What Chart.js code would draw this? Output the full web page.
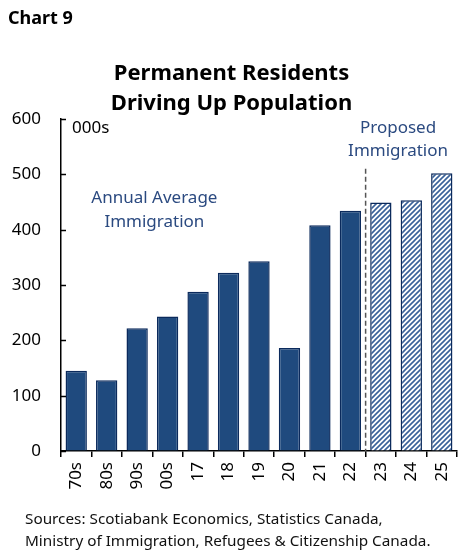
<!DOCTYPE html>
<html>
<head>
<meta charset="utf-8">
<script src="https://cdn.jsdelivr.net/npm/chart.js@4"></script>
<style>
  body { margin: 0; background: #fff; font-family: "Noto Sans", "Open Sans", sans-serif; }
  #wrap { position: relative; width: 473px; height: 550px; }
  #chart { position: absolute; left: 0; top: 0; }
  .txt { position: absolute; color: #000; white-space: nowrap; }
  #chartNo { left: 8px; top: 5px; font-weight: 700; font-size: 18px; }
  #title { left: 0; width: 463px; top: 56px; text-align: center; font-weight: 700; font-size: 22px; line-height: 30px; }
  #sources { left: 25px; top: 507px; font-size: 15.3px; line-height: 22px; color: #111; }
</style>
</head>
<body>
<div id="wrap">
  <canvas id="chart" width="473" height="550"></canvas>
  <div class="txt" id="chartNo">Chart 9</div>
  <div class="txt" id="title">Permanent Residents<br>Driving Up Population</div>
  <div class="txt" id="sources">Sources: Scotiabank Economics, Statistics Canada,<br>Ministry of Immigration, Refugees &amp; Citizenship Canada.</div>
</div>
<script>
// ---- data ----
const categories = ['70s', '80s', '90s', '00s', '17', '18', '19', '20', '21', '22', '23', '24', '25'];
const immigration = [145, 128, 222, 243, 288, 322, 343, 186, 408, 434, 449, 453, 502];
const proposedFrom = 10; // index of first proposed year ('23')
const yTicks = [0, 100, 200, 300, 400, 500, 600];

const navy = '#0b2a5c';
const barBlue = '#1f4a7e';
const noteBlue = '#2b4a80';

// hatch pattern for proposed bars
function makeHatch() {
  const c = document.createElement('canvas');
  c.width = 5; c.height = 5;
  const g = c.getContext('2d');
  g.fillStyle = '#fff';
  g.fillRect(0, 0, 5, 5);
  g.strokeStyle = '#3a629a';
  g.lineWidth = 1.6;
  g.beginPath();
  g.moveTo(-1, 6); g.lineTo(6, -1);
  g.moveTo(-3.5, 3.5); g.lineTo(3.5, -3.5);
  g.moveTo(1.5, 8.5); g.lineTo(8.5, 1.5);
  g.stroke();
  return g.createPattern(c, 'repeat');
}
const hatch = makeHatch();

const fills = categories.map((c, i) => i >= proposedFrom ? hatch : barBlue);

// annotations, y tick marks, dashed divider
const extras = {
  id: 'extras',
  afterDraw(chart) {
    const ctx = chart.ctx;
    const xs = chart.scales.x, ys = chart.scales.y;
    const area = chart.chartArea;
    ctx.save();

    // inward y tick marks
    ctx.strokeStyle = '#000';
    ctx.lineWidth = 1.5;
    yTicks.forEach(v => {
      const y = Math.round(ys.getPixelForValue(v)) + 0.5;
      ctx.beginPath();
      ctx.moveTo(area.left, y);
      ctx.lineTo(area.left + 5, y);
      ctx.stroke();
    });

    // dashed divider between actual and proposed
    const xd = (xs.getPixelForValue(proposedFrom - 1) + xs.getPixelForValue(proposedFrom)) / 2;
    ctx.strokeStyle = '#555';
    ctx.lineWidth = 1.5;
    ctx.setLineDash([5, 3]);
    ctx.beginPath();
    ctx.moveTo(xd, ys.getPixelForValue(510));
    ctx.lineTo(xd, ys.getPixelForValue(0));
    ctx.stroke();
    ctx.setLineDash([]);

    // text notes
    ctx.fillStyle = '#000';
    ctx.font = '17px "Noto Sans", sans-serif';
    ctx.textBaseline = 'middle';
    ctx.textAlign = 'left';
    ctx.fillText('000s', area.left + 11, ys.getPixelForValue(584));

    ctx.fillStyle = noteBlue;
    ctx.textAlign = 'center';
    const xa = (xs.getPixelForValue(2) + xs.getPixelForValue(3)) / 2 + 2;
    ctx.fillText('Annual Average', xa, ys.getPixelForValue(457));
    ctx.fillText('Immigration', xa, ys.getPixelForValue(414));

    const xp = (xs.getPixelForValue(10) + xs.getPixelForValue(11)) / 2 + 2;
    ctx.fillText('Proposed', xp, ys.getPixelForValue(584));
    ctx.fillText('Immigration', xp, ys.getPixelForValue(541));

    ctx.restore();
  }
};

new Chart(document.getElementById('chart'), {
  type: 'bar',
  data: {
    labels: categories,
    datasets: [{
      data: immigration,
      backgroundColor: fills,
      borderColor: navy,
      borderWidth: 1.5,
      borderSkipped: 'bottom',
      barPercentage: 0.7,
      categoryPercentage: 1.0
    }]
  },
  options: {
    responsive: false,
    animation: false,
    layout: { padding: { top: 119, left: 0, right: 16, bottom: 0 } },
    plugins: { legend: { display: false }, tooltip: { enabled: false }, title: { display: false } },
    scales: {
      x: {
        offset: true,
        grid: { offset: true, drawOnChartArea: false, drawTicks: true, tickLength: 6, color: '#000', lineWidth: 1.5 },
        border: { display: true, color: '#000', width: 1.5 },
        ticks: { color: '#000', font: { size: 17, family: '"Noto Sans", sans-serif' }, minRotation: 90, maxRotation: 90, padding: 5, autoSkip: false },
        afterFit: s => { s.height = 99; }
      },
      y: {
        min: 0, max: 600,
        afterBuildTicks: s => { s.ticks = yTicks.map(v => ({ value: v })); },
        grid: { drawOnChartArea: false, drawTicks: false },
        border: { display: true, color: '#000', width: 1.5 },
        ticks: { color: '#000', font: { size: 17, family: '"Noto Sans", sans-serif' }, padding: 20 },
        afterFit: s => { s.width = 61; }
      }
    }
  },
  plugins: [extras]
});
</script>
</body>
</html>
